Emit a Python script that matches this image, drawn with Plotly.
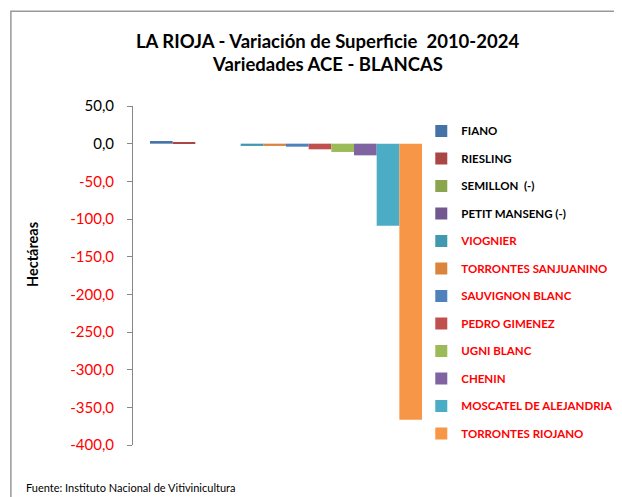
import plotly.graph_objects as go

varieties = ["FIANO", "RIESLING", "SEMILLON  (-)", "PETIT MANSENG (-)", "VIOGNIER",
             "TORRONTES SANJUANINO", "SAUVIGNON BLANC", "PEDRO GIMENEZ", "UGNI BLANC",
             "CHENIN", "MOSCATEL DE ALEJANDRIA", "TORRONTES RIOJANO"]
values = [3.5, 1.0, 0.0, 0.0, -3.0, -3.0, -4.0, -7.5, -11.0, -15.5, -109.0, -366.5]
label_red = [False, False, False, False, True, True, True, True, True, True, True, True]
colors = ["#4572A7", "#AA4643", "#89A54E", "#71588F", "#4198AF", "#DB843D",
          "#4F81BD", "#C0504D", "#9BBB59", "#8064A2", "#4BACC6", "#F79646"]
tick_vals = [50, 0, -50, -100, -150, -200, -250, -300, -350, -400]
tick_labels = ["50,0", "0,0", "-50,0", "-100,0", "-150,0", "-200,0", "-250,0",
               "-300,0", "-350,0", "-400,0"]

# page body has an 8px margin; lay out in screen pixels and shift
OFF = 8
W, H = 614, 489
L, T = 133 - OFF, 105.5 - OFF
PLOT_R, PLOT_B = 438.7 - OFF, 445.3 - OFF
R, B = W - PLOT_R, H - PLOT_B
PW, PH = PLOT_R - L, PLOT_B - T

def px(x):
    return (x - OFF - L) / PW

def py(y):
    return (PLOT_B - (y - OFF)) / PH

fig = go.Figure()
for i, (name, v) in enumerate(zip(varieties, values)):
    col = "#FF0000" if label_red[i] else "#000000"
    fig.add_trace(go.Bar(
        x=[""], y=[v], name=f"<span style='color:{col}'><b>{name}</b></span>",
        marker=dict(color=colors[i], line=dict(width=0)),
        legendgroup=f"g{i}", hoverinfo="y"))

tick_text = []
for v, t in zip(tick_vals, tick_labels):
    col = "#FF0000" if v < 0 else "#000000"
    tick_text.append(f"<span style='color:{col}'>{t}</span>")

fig.update_layout(
    width=W, height=H,
    margin=dict(l=L, r=R, t=T, b=B, autoexpand=False),
    paper_bgcolor="white", plot_bgcolor="white",
    barmode="group", bargap=0.111, bargroupgap=0,
    font=dict(family="Lato, 'Noto Sans', sans-serif", color="#000000"),
    showlegend=True,
    legend=dict(x=px(421), y=py(116), xanchor="left", yanchor="top",
                font=dict(size=11.5), tracegroupgap=8.5, itemwidth=30,
                bgcolor="rgba(0,0,0,0)"),
    xaxis=dict(showticklabels=False, showline=False, showgrid=False,
               zeroline=False, ticks=""),
    yaxis=dict(range=[-400, 50], tickvals=tick_vals, ticktext=tick_text,
               showgrid=False, zeroline=False, showline=True,
               linecolor="#888888", linewidth=1, ticks="outside",
               ticklen=5, tickcolor="#888888", tickfont=dict(size=15),
               ticklabelstandoff=10, automargin=False),
    annotations=[
        dict(text="<b>LA RIOJA - Variación de Superficie  2010-2024</b>",
             x=px(327), y=py(40), xref="paper", yref="paper",
             showarrow=False, font=dict(size=18.5), xanchor="center", yanchor="middle"),
        dict(text="<b>Variedades ACE - BLANCAS</b>",
             x=px(327), y=py(63), xref="paper", yref="paper",
             showarrow=False, font=dict(size=18.5), xanchor="center", yanchor="middle"),
        dict(text="<b>Hectáreas</b>", textangle=-90,
             x=px(32), y=py(254), xref="paper", yref="paper",
             showarrow=False, font=dict(size=14.5), xanchor="center", yanchor="middle"),
        dict(text="Fuente: Instituto Nacional de Vitivinicultura",
             x=px(24), y=py(488), xref="paper", yref="paper",
             showarrow=False, font=dict(size=11), xanchor="left", yanchor="middle"),
    ],
    shapes=[
        dict(type="rect", xref="paper", yref="paper",
             x0=px(11), x1=px(700), y0=py(560), y1=py(10.5),
             line=dict(color="#999999", width=1.5), fillcolor="rgba(0,0,0,0)",
             layer="below"),
    ],
)

fig.write_html("out.html")
